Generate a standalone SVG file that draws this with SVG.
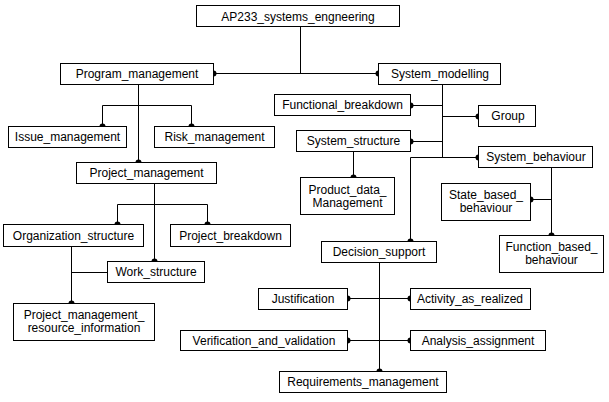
<svg xmlns="http://www.w3.org/2000/svg" width="609" height="402" viewBox="0 0 609 402">
<style>
rect{fill:#fff;stroke:#000;stroke-width:1}
text{font-family:"Liberation Sans",Arial,sans-serif;font-size:12px;fill:#000;text-anchor:middle}
.c path{fill:none;stroke:#000;stroke-width:1}
.c circle{fill:#000}
</style>
<rect x="0" y="0" width="609" height="402" style="stroke:none"/>
<g class="c" id="connectors">
<path d="M300.5 26.5V73.5M213.5 73.5H378.5"/>
<path d="M138.5 84.5V162.5M102.5 126.5V105.5H191.5V126.5"/>
<path d="M154.5 183.5V261.5M117.5 224.5V204.5H207.5V224.5"/>
<path d="M71.5 246.5V303.5M71.5 272.5H107.5"/>
<path d="M442.5 84.5V157.5M410.5 105.5H442.5M442.5 116.5H478.5M410.5 141.5H442.5M410.5 241.5V157.5H478.5"/>
<path d="M353.5 151.5V177.5"/>
<path d="M551.5 167.5V235.5M530.5 199.5H551.5"/>
<path d="M379.5 262.5V371.5M347.5 298.5H410.5M347.5 340.5H410.5"/>
<circle cx="213.5" cy="73.5" r="3"/><circle cx="378.5" cy="73.5" r="3"/>
<circle cx="138.5" cy="162.5" r="3"/><circle cx="102.5" cy="126.5" r="3"/><circle cx="191.5" cy="126.5" r="3"/>
<circle cx="154.5" cy="261.5" r="3"/><circle cx="117.5" cy="224.5" r="3"/><circle cx="207.5" cy="224.5" r="3"/>
<circle cx="71.5" cy="303.5" r="3"/>
<circle cx="410.5" cy="105.5" r="3"/><circle cx="478.5" cy="116.5" r="3"/><circle cx="410.5" cy="141.5" r="3"/>
<circle cx="478.5" cy="157.5" r="3"/><circle cx="410.5" cy="241.5" r="3"/>
<circle cx="353.5" cy="177.5" r="3"/>
<circle cx="551.5" cy="235.5" r="3"/><circle cx="530.5" cy="199.5" r="3"/>
<circle cx="379.5" cy="371.5" r="3"/>
<circle cx="347.5" cy="298.5" r="3"/><circle cx="410.5" cy="298.5" r="3"/>
<circle cx="347.5" cy="340.5" r="3"/><circle cx="410.5" cy="340.5" r="3"/>
</g>
<g id="ap233"><rect x="196.5" y="5.5" width="203" height="21"/><text x="298" y="20.5">AP233_systems_engneering</text></g>
<g id="program_management"><rect x="60.5" y="63.5" width="153" height="21"/><text x="137" y="78">Program_management</text></g>
<g id="system_modelling"><rect x="378.5" y="63.5" width="122" height="21"/><text x="440" y="78">System_modelling</text></g>
<g id="issue_management"><rect x="8.5" y="126.5" width="118" height="21"/><text x="67.5" y="141">Issue_management</text></g>
<g id="risk_management"><rect x="154.5" y="126.5" width="120" height="21"/><text x="214.5" y="141">Risk_management</text></g>
<g id="project_management"><rect x="76.5" y="162.5" width="140" height="21"/><text x="146.5" y="177">Project_management</text></g>
<g id="organization_structure"><rect x="3.5" y="224.5" width="140" height="22"/><text x="73.5" y="239.5">Organization_structure</text></g>
<g id="project_breakdown"><rect x="170.5" y="224.5" width="120" height="22"/><text x="230.5" y="239.5">Project_breakdown</text></g>
<g id="work_structure"><rect x="107.5" y="261.5" width="97" height="21"/><text x="156" y="276">Work_structure</text></g>
<g id="pmri"><rect x="13.5" y="303.5" width="141" height="37"/><text x="84" y="318.5">Project_management_</text><text x="84" y="331.5">resource_information</text></g>
<g id="functional_breakdown"><rect x="274.5" y="94.5" width="136" height="21"/><text x="342.5" y="109">Functional_breakdown</text></g>
<g id="group"><rect x="478.5" y="105.5" width="57" height="21"/><text x="508" y="120">Group</text></g>
<g id="system_structure"><rect x="296.5" y="130.5" width="114" height="21"/><text x="353.5" y="145">System_structure</text></g>
<g id="system_behaviour"><rect x="478.5" y="146.5" width="114" height="21"/><text x="536" y="161">System_behaviour</text></g>
<g id="product_data_management"><rect x="300.5" y="177.5" width="94" height="37"/><text x="347.5" y="193.5">Product_data_</text><text x="347.5" y="206.5">Management</text></g>
<g id="state_based_behaviour"><rect x="441.5" y="183.5" width="89" height="37"/><text x="486" y="199">State_based_</text><text x="486" y="212">behaviour</text></g>
<g id="function_based_behaviour"><rect x="499.5" y="235.5" width="104" height="37"/><text x="551.5" y="251">Function_based_</text><text x="551.5" y="264">behaviour</text></g>
<g id="decision_support"><rect x="321.5" y="241.5" width="115" height="21"/><text x="379" y="256">Decision_support</text></g>
<g id="justification"><rect x="258.5" y="288.5" width="89" height="21"/><text x="303" y="303">Justification</text></g>
<g id="activity_as_realized"><rect x="410.5" y="288.5" width="120" height="21"/><text x="470" y="303">Activity_as_realized</text></g>
<g id="verification_and_validation"><rect x="180.5" y="330.5" width="167" height="20"/><text x="264" y="344.5">Verification_and_validation</text></g>
<g id="analysis_assignment"><rect x="410.5" y="330.5" width="135" height="20"/><text x="478" y="344.5">Analysis_assignment</text></g>
<g id="requirements_management"><rect x="279.5" y="371.5" width="167" height="21"/><text x="363" y="386">Requirements_management</text></g>
</svg>
